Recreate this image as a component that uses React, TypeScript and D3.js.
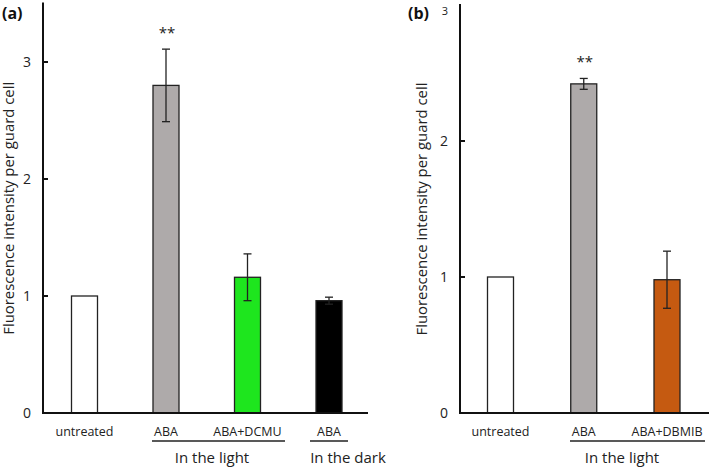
import * as d3 from 'd3';

// panel (a)
const catsA = ['untreated', 'ABA', 'ABA+DCMU', 'ABA '];
const valsA = [1.0, 2.8, 1.16, 0.96];
const errsA = [0, 0.31, 0.2, 0.03];
const colorsA = ['#ffffff', '#aeaaaa', '#1ee61e', '#000000'];
const starsA = ['', '**', '', ''];
const ticksA = [0, 1, 2, 3];

// panel (b)
const catsB = ['untreated', 'ABA', 'ABA+DBMIB'];
const valsB = [1.0, 2.42, 0.98];
const errsB = [0, 0.04, 0.21];
const colorsB = ['#ffffff', '#aeaaaa', '#c55a11'];
const starsB = ['', '**', ''];
const ticksB = [0, 1, 2, 3];

const FONT = "'Open Sans', 'Noto Sans', sans-serif";
const YLABEL = 'Fluorescence intensity per guard cell';

interface Group {
  label: string;
  from: number;
  to: number;
  lineX0: number;
  lineX1: number;
}

interface PanelProps {
  tag: string;
  tagX: number;
  cats: string[];
  vals: number[];
  errs: number[];
  colors: string[];
  stars: string[];
  ticks: number[];
  yMax: number;
  yTop: number;
  axisX: number;
  axisEnd: number;
  firstX: number;
  lastX: number;
  labelX: number;
  groups: Group[];
  tickSmallTop?: boolean;
}

function Panel(p: PanelProps) {
  const y0 = 413;
  const y = d3.scaleLinear().domain([0, p.yMax]).range([y0, p.yTop]);
  const x = d3.scalePoint<string>().domain(p.cats).range([p.firstX, p.lastX]);
  const bw = 26;
  const labelY = (y(0) + y(p.yMax)) / 2;

  return (
    <g fontFamily={FONT}>
      <text x={p.tagX} y={19} fontSize={16} fontWeight="bold" fill="#111">{p.tag}</text>
      <text
        transform={`translate(${p.labelX},${labelY}) rotate(-90)`}
        textAnchor="middle"
        fontSize={14}
        fill="#222"
        textLength={253}
        lengthAdjust="spacingAndGlyphs"
      >{YLABEL}</text>

      {p.cats.map((c, i) => {
        const cx = x(c)!;
        const top = y(p.vals[i]);
        return (
          <g key={c}>
            <rect x={cx - bw / 2} y={top} width={bw} height={y0 - top}
              fill={p.colors[i]} stroke="#222" strokeWidth={1.3} />
            {p.errs[i] > 0 && (
              <g stroke="#222" strokeWidth={1.3}>
                <line x1={cx} x2={cx} y1={y(p.vals[i] + p.errs[i])} y2={y(p.vals[i] - p.errs[i])} />
                <line x1={cx - 4} x2={cx + 4} y1={y(p.vals[i] + p.errs[i])} y2={y(p.vals[i] + p.errs[i])} />
                <line x1={cx - 4} x2={cx + 4} y1={y(p.vals[i] - p.errs[i])} y2={y(p.vals[i] - p.errs[i])} />
              </g>
            )}
            {p.stars[i] && (
              <text x={cx + 1} y={y(p.vals[i] + p.errs[i]) - 11} textAnchor="middle" fontSize={15} fill="#222">{p.stars[i]}</text>
            )}
            <text x={cx} y={436} textAnchor="middle" fontSize={12.5} fill="#222">{c.trim()}</text>
          </g>
        );
      })}

      {p.groups.map(g => (
        <g key={g.label + g.from}>
          <line x1={g.lineX0} x2={g.lineX1} y1={441} y2={441} stroke="#222" strokeWidth={1.3} />
          <text x={(g.from + g.to) / 2} y={463} textAnchor="middle" fontSize={15} fill="#222">{g.label}</text>
        </g>
      ))}

      {/* axes */}
      <line x1={p.axisX} x2={p.axisX} y1={y(p.yMax) - 1} y2={y0 + 1} stroke="#111" strokeWidth={2} />
      <line x1={p.axisX - 1} x2={p.axisEnd} y1={y0} y2={y0} stroke="#111" strokeWidth={2} />
      {p.ticks.map(t => {
        const small = p.tickSmallTop && t === p.yMax;
        return (
          <g key={t}>
            {t > 0 && t < p.yMax && (
              <line x1={p.axisX} x2={p.axisX + 5} y1={y(t)} y2={y(t)} stroke="#111" strokeWidth={2} />
            )}
            <text
              x={p.axisX - 12}
              y={small ? y(t) + 6 : y(t)}
              dy="0.36em"
              textAnchor="end"
              fontSize={small ? 11 : 14}
              fill="#222"
            >{t}</text>
          </g>
        );
      })}
    </g>
  );
}

export default function App() {
  return (
    <svg width={709} height={467} style={{ position: 'absolute', left: 0, top: 0, background: '#fff' }}>
      <rect width={709} height={467} fill="#fff" />
      <Panel
        tag="(a)" tagX={2}
        cats={catsA} vals={valsA} errs={errsA} colors={colorsA} stars={starsA}
        ticks={ticksA} yMax={3.5} yTop={3.5}
        axisX={43} axisEnd={368} firstX={84.5} lastX={329} labelX={14}
        groups={[
          { label: 'In the light', from: 175, to: 249, lineX0: 152, lineX1: 285 },
          { label: 'In the dark', from: 312, to: 384, lineX0: 310, lineX1: 348 },
        ]}
      />
      <Panel
        tag="(b)" tagX={408}
        cats={catsB} vals={valsB} errs={errsB} colors={colorsB} stars={starsB}
        ticks={ticksB} yMax={3} yTop={5}
        axisX={460} axisEnd={709} firstX={500.5} lastX={667} labelX={427}
        groups={[
          { label: 'In the light', from: 584, to: 660, lineX0: 570, lineX1: 705 },
        ]}
        tickSmallTop
      />
    </svg>
  );
}
